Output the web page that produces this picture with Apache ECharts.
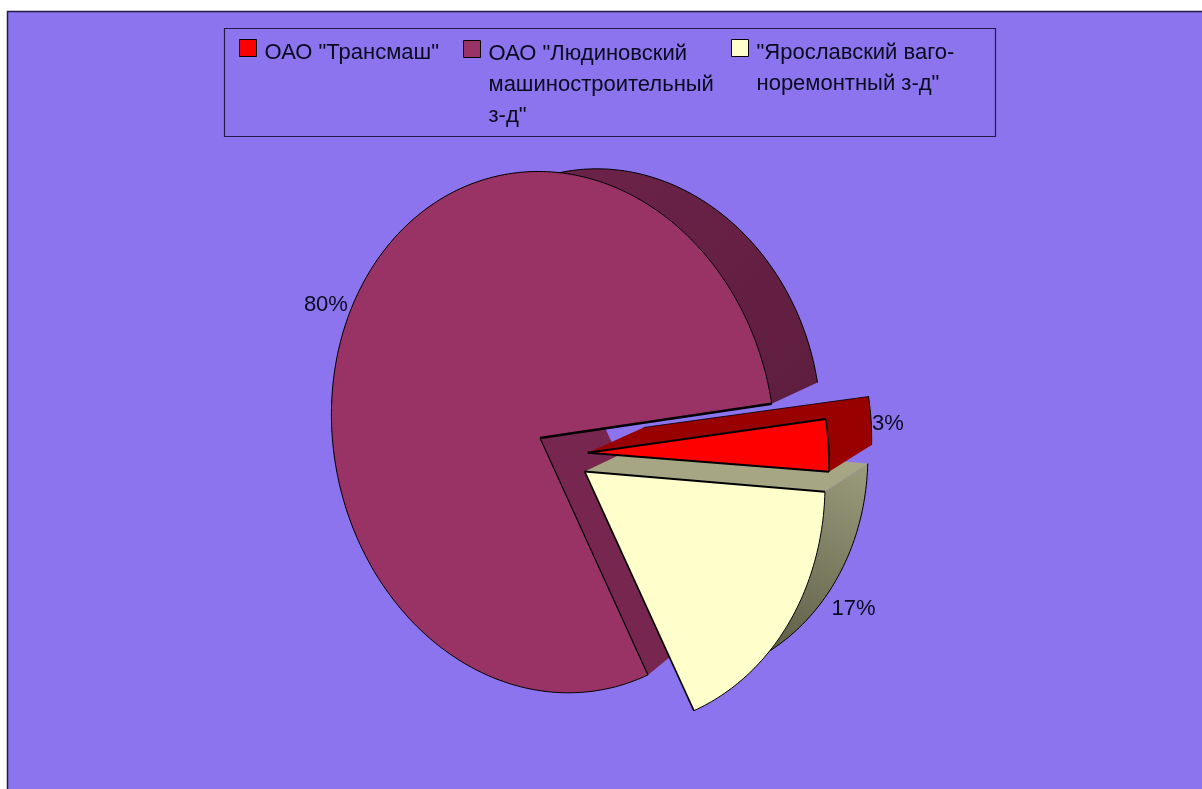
<!DOCTYPE html>
<html><head><meta charset="utf-8"><style>html,body{margin:0;background:#fff}#c{width:1202px;height:789px}</style>
<script src="https://cdn.jsdelivr.net/npm/echarts@6/dist/echarts.min.js"></script></head>
<body><div id="c"></div><script>
const categories=['ОАО "Трансмаш"','ОАО "Людиновский\nмашиностроительный\nз-д"','"Ярославский ваго-\nноремонтный з-д"'];
const shares=[3,80,17];
const rad=Math.PI/180, tot=shares.reduce((a,b)=>a+b,0);
const span=i=>shares[i]/tot*360;
// projection of the pie disk onto the page
const q={A:221,B:-0.5184,C:17.4394,D:-259.447,g:-0.06,h:-0.0265,phi:10.9222};
const OX=540,OY=438,DSX=.945,DSY=.92,TX=58.5,TY=-24;
const expl=[[0.2135,-0.0415],[0,0],[0.2,-0.1143]];
function pr(c,s,ou,ov){const u=c+ou,v=s+ov,w=1+q.g*u+q.h*v;return[(q.A*u+q.B*v)/w,(q.C*u+q.D*v)/w]}
const starts=[q.phi-span(0),q.phi,q.phi+span(1)];
const front=(a,e)=>{const p=pr(Math.cos(a*rad),Math.sin(a*rad),e[0],e[1]);return[OX+p[0],OY+p[1]]};
const back=(a,e)=>{const p=pr(Math.cos(a*rad),Math.sin(a*rad),e[0],e[1]);return[OX+p[0]*DSX+TX,OY+p[1]*DSY+TY]};
const apex=(e,b)=>{const p=pr(e[0],e[1],0,0);return b?[OX+p[0]*DSX+TX,OY+p[1]*DSY+TY]:[OX+p[0],OY+p[1]]};
function arc(f,a0,a1,e){const o=[];const n=Math.max(2,Math.ceil(Math.abs(a1-a0)));for(let i=0;i<=n;i++)o.push(f(a0+(a1-a0)*i/n,e));return o}
const poly=(pts,fill)=>({type:'polygon',shape:{points:pts},style:{fill}});
const line=(pts,lw)=>({type:'polyline',shape:{points:pts},style:{fill:null,stroke:'#000',lineWidth:lw}});
const labelOff=[[59.5,-21],[-22,-12],[67,-18]];
function label(i,a0,a1,e){const p=front((a0+a1)/2,e);return{type:'text',z2:20,style:{text:Math.round(shares[i]/tot*100)+'%',x:p[0]+labelOff[i][0],y:p[1]+labelOff[i][1],align:'center',verticalAlign:'middle',font:'22px "Liberation Sans"',fill:'#0a0a1e'}}}
const grad=(x0,y0,x1,y1,c0,c1)=>({type:'linear',x:x0,y:y0,x2:x1,y2:y1,global:true,colorStops:[{offset:0,color:c0},{offset:1,color:c1}]});
function renderSlice(params,api){
 const i=[1,2,0][params.seriesIndex];
 const a0=starts[i],a1=a0+api.value(0)/tot*360,e=expl[i];
 const A=apex(e,false),B=apex(e,true),fr=arc(front,a0,a1,e),bk=arc(back,a0,a1,e),n=fr.length-1,ch=[];
 if(i===1){
  ch.push(poly(fr.slice(0,200).concat(bk.slice(0,200).reverse()),grad(817,381,600,170,'#5f1e40','#6b2248')));
  ch.push(line(bk.slice(0,200),1));
  ch.push(poly([A,fr[n],bk[n],B],'#772650'));
  ch.push(poly([A].concat(fr),'#993366'));
  ch.push(line(fr,1));ch.push(line([fr[n],A],1.2));ch.push(line([A,fr[0]],2.4));
 }else if(i===2){
  ch.push(poly(fr.concat(bk.slice().reverse()),grad(868,464,770,660,'#9b9b7d','#5d5d45')));
  ch.push(line(bk,1));
  ch.push(poly([A,fr[n],bk[n],B],'#a6a685'));
  ch.push(poly([A].concat(fr),'#ffffcc'));
  ch.push(line(fr,1));ch.push(line([fr[0],A],1.6));ch.push(line([A,fr[n]],2));
 }else{
  ch.push(poly([fr[0]].concat(bk,[B,A]),'#990000'));
  ch.push(line(bk,1));ch.push(line([B,bk[n]],.8));
  ch.push(poly([A].concat(fr),'#ff0000'));
  ch.push(line(fr,1.6));ch.push(line([fr[0],A],2));ch.push(line([A,fr[n]],2));
 }
 ch.push(label(i,a0,a1,e));
 return{type:'group',children:ch};
}
const colors=['#ff0000','#993366','#ffffcc'];
const drawOrder=[1,2,0];
const chart=echarts.init(document.getElementById('c'),null,{renderer:'canvas'});
const gapH=[9,71,40];
const lg=(i,left,top)=>({data:[categories[i]],left,top,padding:0,itemWidth:17,itemHeight:17,icon:'rect',selectedMode:false,
 formatter:n=>'{g'+i+'| }\n'+n.split('\n').map(t=>'{t|'+t+'}').join('\n'),
 itemStyle:{borderColor:'#000',borderWidth:1},
 textStyle:{rich:{['g'+i]:{fontSize:1,height:gapH[i],lineHeight:gapH[i]},t:{fontFamily:'Liberation Sans',fontSize:22,lineHeight:31,color:'#0a0a1e',padding:[0,0,0,3]}}}});
chart.setOption({animation:false,backgroundColor:'#fff',
 graphic:[{type:'rect',z:0,shape:{x:7.5,y:11.5,width:1300,height:900},style:{fill:'#8b74ee',stroke:'#231a45',lineWidth:1.5}},
 {type:'rect',z:0,shape:{x:224.5,y:28.5,width:771,height:108},style:{fill:null,stroke:'#231a45',lineWidth:1.2}}],
 legend:[lg(0,239,28),lg(1,463,-33),lg(2,731,-3)],
 series:drawOrder.map(i=>({type:'custom',name:categories[i],coordinateSystem:'none',z:5,itemStyle:{color:colors[i]},data:[[shares[i]]],renderItem:renderSlice,silent:true}))
});
</script></body></html>
